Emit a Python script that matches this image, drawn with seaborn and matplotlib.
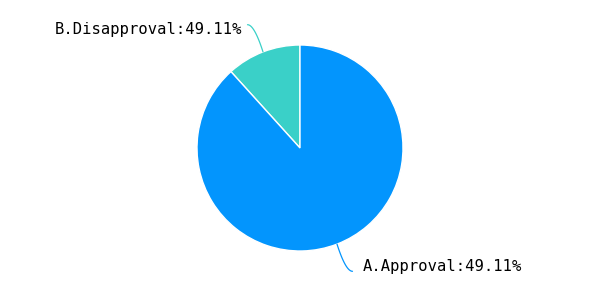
import numpy as np
import matplotlib
matplotlib.use("Agg")
import matplotlib.pyplot as plt
import seaborn as sns

categories = ["B.Disapproval", "A.Approval"]
values = [11.7, 88.3]
label_pcts = ["49.11%", "49.11%"]
colors = ["#3ad0c8", "#0395fd"]

sns.set_theme(style="white")
plt.rcParams['font.family'] = ['DejaVu Sans Mono', 'DejaVu Sans']

fig = plt.figure(figsize=(6, 3), dpi=100)
ax = fig.add_axes([0, 0, 1, 1])
R = 103
wedges, _ = ax.pie(values, colors=colors, startangle=90, counterclock=True,
                   radius=R, center=(0, 0),
                   wedgeprops=dict(edgecolor="white", linewidth=1.0))
ax.set_xlim(-300, 300)
ax.set_ylim(-152, 148)
ax.set_aspect("equal")
ax.axis("off")

for w, cat, pct, col in zip(wedges, categories, label_pcts, colors):
    mid = np.deg2rad((w.theta1 + w.theta2) / 2)
    c, s = np.cos(mid), np.sin(mid)
    x0, y0 = R * c, R * s
    end = mid + np.deg2rad(2)
    x1, y1 = 134 * np.cos(end), 134 * np.sin(end)
    side = np.sign(c)
    # control point: radial start, horizontal finish
    xm, ym = x1 - 6 * side, y1
    xm = 0.5 * (xm + (R + 22) * c)
    t = np.linspace(0, 1, 30)
    xs = (1 - t) ** 2 * x0 + 2 * (1 - t) * t * xm + t ** 2 * x1
    ys = (1 - t) ** 2 * y0 + 2 * (1 - t) * t * ym + t ** 2 * y1
    ax.plot(xs, ys, color=col, lw=0.9, solid_capstyle="round")
    gap = 10 if side > 0 else 5
    ax.text(x1 + gap * side, y1 - 5 * np.sign(s), f"{cat}:{pct}",
            ha="left" if side > 0 else "right", va="center",
            fontsize=11.2, color="#000000")

fig.savefig("out.png", dpi=100)
